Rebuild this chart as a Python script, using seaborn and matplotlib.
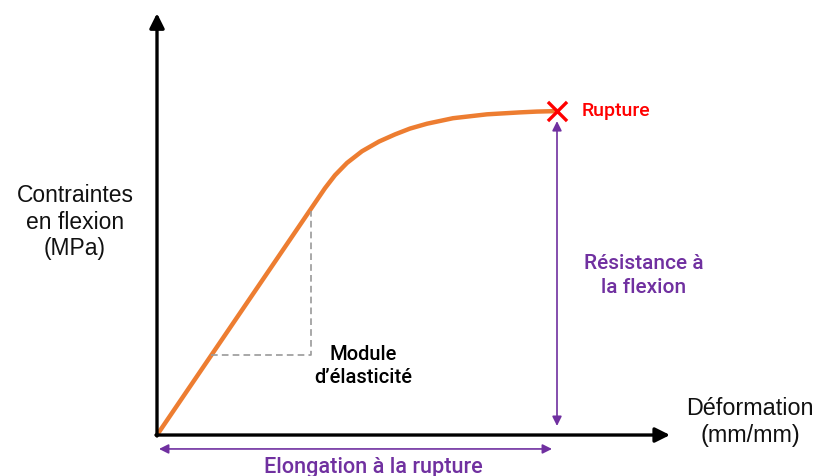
import matplotlib
matplotlib.use('Agg')
import matplotlib.pyplot as plt
import seaborn as sns
import pandas as pd

# =============================================================================
# Data (strain in mm/mm, stress in MPa, rupture = 100)
# =============================================================================
strain = [0, 0.0168, 0.0178, 0.0190, 0.0205, 0.0222, 0.0238, 0.0253,
          0.0270, 0.0296, 0.0330, 0.0363, 0.0380, 0.0400]
stress = [0, 76.2, 80.2, 84.0, 87.6, 90.6, 92.8, 94.6,
          96.1, 97.8, 99.0, 99.6, 99.85, 100.0]

# elastic modulus triangle (two corners on the straight part)
module_x = [0.0054, 0.0154]
module_y = [24.7, 69.2]

rupture_x = strain[-1]
rupture_y = stress[-1]

curve_df = pd.DataFrame({'strain': strain, 'stress': stress})

ORANGE = '#ED7D31'
PURPLE = '#7030A0'
RED = '#FF0000'
NARROW = ['Roboto', 'DejaVu Sans']
REGULAR = ['Liberation Sans', 'DejaVu Sans']

sns.set_theme(style='white')

fig = plt.figure(figsize=(8.18, 4.77), dpi=100)
ax = fig.add_axes([0, 0, 1, 1])
ax.set_xlim(-0.0157, 0.0661)
ax.set_ylim(-12.65, 134.6)
ax.axis('off')

# axes drawn as arrows
ax.annotate('', xy=(0.0513, 0), xytext=(-0.0001, 0),
            arrowprops=dict(arrowstyle='-|>', color='black', lw=2.4,
                            mutation_scale=22, shrinkA=0, shrinkB=0))
ax.annotate('', xy=(0, 130.2), xytext=(0, -0.3),
            arrowprops=dict(arrowstyle='-|>', color='black', lw=2.4,
                            mutation_scale=22, shrinkA=0, shrinkB=0))

# stress-strain curve
sns.lineplot(data=curve_df, x='strain', y='stress', sort=False, ax=ax,
             color=ORANGE, linewidth=3.2, solid_capstyle='round',
             solid_joinstyle='round')

# elastic modulus triangle
ax.plot([module_x[0], module_x[1], module_x[1]],
        [module_y[0], module_y[0], module_y[1]],
        color='#9a9a9a', lw=1.2, ls=(0, (4, 2.5)))

# rupture point
sns.scatterplot(x=[rupture_x], y=[rupture_y], marker='x', s=190,
                color=RED, linewidth=2.4, ax=ax, zorder=5)
ax.text(rupture_x + 0.0025, rupture_y + 0.3, 'Rupture', color=RED,
        fontsize=14, fontweight='medium', family=NARROW,
        ha='left', va='center')

# resistance arrow
ax.annotate('', xy=(rupture_x, 96.9), xytext=(rupture_x, 2.8),
            arrowprops=dict(arrowstyle='<|-|>', color=PURPLE, lw=1.2,
                            mutation_scale=14, shrinkA=0, shrinkB=0))
ax.text(0.0487, 49.5, 'Résistance à\nla flexion', color=PURPLE,
        fontsize=15, fontweight='medium', family=NARROW,
        ha='center', va='center', linespacing=1.3)

# elongation arrow
ax.annotate('', xy=(0.0002, -4.3), xytext=(0.0395, -4.3),
            arrowprops=dict(arrowstyle='<|-|>', color=PURPLE, lw=1.2,
                            mutation_scale=14, shrinkA=0, shrinkB=0))
ax.text(0.0216, -9.6, 'Elongation à la rupture', color=PURPLE,
        fontsize=15.6, fontweight='medium', family=NARROW,
        ha='center', va='center')

# modulus label
ax.text(0.0206, 21.6, 'Module\nd\u2019élasticité', color='black',
        fontsize=14.5, fontweight='medium', family=NARROW,
        ha='center', va='center', linespacing=1.3)

# axis labels
ax.text(-0.0082, 66.0, 'Contraintes\nen flexion\n(MPa)', color='#111111',
        fontsize=16.5, family=REGULAR, ha='center', va='center',
        linespacing=1.2)
ax.text(0.0593, 4.3, 'Déformation\n(mm/mm)', color='#111111',
        fontsize=16.8, family=REGULAR, ha='center', va='center',
        linespacing=1.2)

plt.savefig('out.png', dpi=100)
